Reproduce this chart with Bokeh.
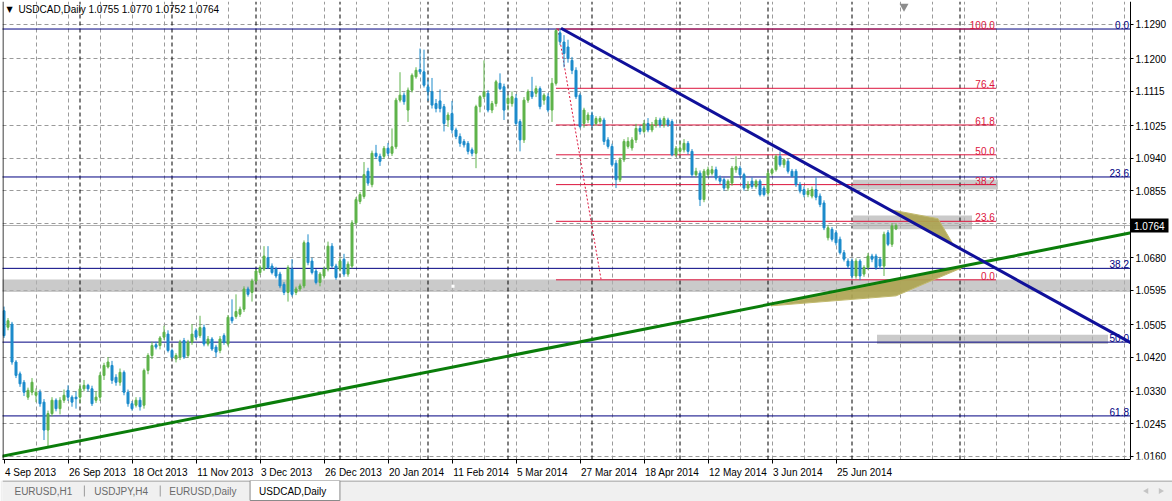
from bokeh.plotting import figure
from bokeh.models import Range1d, FixedTicker, Label, ColumnDataSource, NumeralTickFormatter, CustomJSTickFormatter
from bokeh.layouts import column
from bokeh.embed import file_html
from bokeh.resources import INLINE
from bokeh.core.properties import value

FONT = "Liberation Sans"

# ---------------- data ----------------
opens = [1.0541, 1.0498, 1.0506, 1.0407, 1.0376, 1.0354, 1.0315, 1.0328, 1.0320, 1.0328,
         1.0302, 1.0229, 1.0272, 1.0307, 1.0285, 1.0307, 1.0333, 1.0315, 1.0315, 1.0315,
         1.0337, 1.0346, 1.0337, 1.0307, 1.0315, 1.0372, 1.0394, 1.0398, 1.0367, 1.0354,
         1.0380, 1.0328, 1.0298, 1.0294, 1.0307, 1.0294, 1.0385, 1.0424, 1.0452, 1.0450,
         1.0472, 1.0480, 1.0437, 1.0415, 1.0420, 1.0463, 1.0424, 1.0459, 1.0489, 1.0476,
         1.0497, 1.0454, 1.0467, 1.0446, 1.0437, 1.0476, 1.0454, 1.0524, 1.0526, 1.0532,
         1.0545, 1.0598, 1.0589, 1.0619, 1.0641, 1.0650, 1.0680, 1.0658, 1.0650, 1.0637,
         1.0610, 1.0589, 1.0650, 1.0589, 1.0598, 1.0606, 1.0719, 1.0671, 1.0645, 1.0615,
         1.0632, 1.0650, 1.0710, 1.0658, 1.0650, 1.0676, 1.0637, 1.0658, 1.0771, 1.0827,
         1.0840, 1.0906, 1.0871, 1.0953, 1.0945, 1.0945, 1.0966, 1.0953, 1.0970, 1.1092,
         1.1105, 1.1066, 1.1118, 1.1153, 1.1172, 1.1166, 1.1127, 1.1114, 1.1083, 1.1090,
         1.1075, 1.1040, 1.1057, 1.1014, 1.0997, 1.0984, 1.0979, 1.0962, 1.0953, 1.1075,
         1.1101, 1.1110, 1.1066, 1.1083, 1.1136, 1.1127, 1.1083, 1.1083, 1.1097, 1.1036,
         1.0988, 1.1092, 1.1114, 1.1110, 1.1122, 1.1092, 1.1101, 1.1066, 1.1136, 1.1268,
         1.1244, 1.1231, 1.1196, 1.1170, 1.1105, 1.1031, 1.1040, 1.1053, 1.1031, 1.1036,
         1.1040, 1.0988, 1.0971, 1.0927, 1.0884, 1.0936, 1.0971, 1.0967, 1.0988, 1.1018,
         1.1010, 1.1031, 1.1014, 1.1027, 1.1040, 1.1027, 1.1040, 1.1036, 1.0949, 1.0958,
         1.0962, 1.0979, 1.0958, 1.0897, 1.0901, 1.0832, 1.0897, 1.0901, 1.0910, 1.0888,
         1.0884, 1.0862, 1.0875, 1.0910, 1.0914, 1.0897, 1.0862, 1.0880, 1.0866, 1.0880,
         1.0862, 1.0849, 1.0901, 1.0910, 1.0945, 1.0923, 1.0932, 1.0906, 1.0906, 1.0871,
         1.0858, 1.0845, 1.0841, 1.0858, 1.0841, 1.0823, 1.0732, 1.0754, 1.0745, 1.0728,
         1.0693, 1.0671, 1.0671, 1.0632, 1.0671, 1.0637, 1.0654, 1.0684, 1.0684, 1.0676,
         1.0658, 1.0745, 1.0715, 1.0755]
highs = [1.0552, 1.0522, 1.0512, 1.0412, 1.0382, 1.0360, 1.0340, 1.0365, 1.0338, 1.0335,
         1.0310, 1.0280, 1.0315, 1.0312, 1.0315, 1.0335, 1.0346, 1.0320, 1.0330, 1.0350,
         1.0360, 1.0350, 1.0345, 1.0330, 1.0380, 1.0405, 1.0420, 1.0410, 1.0375, 1.0390,
         1.0385, 1.0335, 1.0305, 1.0315, 1.0315, 1.0390, 1.0430, 1.0460, 1.0460, 1.0475,
         1.0502, 1.0490, 1.0442, 1.0430, 1.0465, 1.0470, 1.0465, 1.0506, 1.0495, 1.0528,
         1.0505, 1.0475, 1.0472, 1.0452, 1.0475, 1.0482, 1.0530, 1.0571, 1.0584, 1.0552,
         1.0605, 1.0604, 1.0625, 1.0650, 1.0660, 1.0710, 1.0710, 1.0665, 1.0656, 1.0643,
         1.0616, 1.0660, 1.0676, 1.0604, 1.0612, 1.0725, 1.0741, 1.0680, 1.0650, 1.0642,
         1.0656, 1.0722, 1.0718, 1.0664, 1.0680, 1.0690, 1.0670, 1.0778, 1.0838, 1.0852,
         1.0930, 1.0915, 1.0960, 1.0975, 1.0952, 1.0972, 1.0980, 1.1018, 1.1098, 1.1165,
         1.1112, 1.1125, 1.1162, 1.1178, 1.1227, 1.1224, 1.1145, 1.1150, 1.1095, 1.1120,
         1.1082, 1.1060, 1.1090, 1.1020, 1.1005, 1.0990, 1.0985, 1.0968, 1.1080, 1.1105,
         1.1196, 1.1118, 1.1090, 1.1145, 1.1162, 1.1135, 1.1105, 1.1115, 1.1108, 1.1042,
         1.1100, 1.1120, 1.1153, 1.1130, 1.1128, 1.1110, 1.1110, 1.1150, 1.1278, 1.1280,
         1.1262, 1.1250, 1.1205, 1.1178, 1.1110, 1.1072, 1.1060, 1.1062, 1.1050, 1.1050,
         1.1046, 1.0995, 1.0978, 1.0935, 1.0942, 1.0990, 1.0995, 1.0995, 1.1030, 1.1025,
         1.1040, 1.1045, 1.1035, 1.1048, 1.1046, 1.1050, 1.1046, 1.1042, 1.0972, 1.0985,
         1.0990, 1.0985, 1.0964, 1.0915, 1.0908, 1.0912, 1.0918, 1.0920, 1.0918, 1.0895,
         1.0890, 1.0885, 1.0920, 1.0945, 1.0920, 1.0902, 1.0880, 1.0890, 1.0885, 1.0885,
         1.0868, 1.0908, 1.0915, 1.0950, 1.0958, 1.0940, 1.0938, 1.0912, 1.0912, 1.0878,
         1.0866, 1.0862, 1.0866, 1.0890, 1.0848, 1.0830, 1.0765, 1.0760, 1.0752, 1.0735,
         1.0700, 1.0678, 1.0678, 1.0678, 1.0676, 1.0660, 1.0692, 1.0690, 1.0690, 1.0682,
         1.0748, 1.0752, 1.0770, 1.0770]
lows = [1.0470, 1.0490, 1.0400, 1.0365, 1.0342, 1.0318, 1.0308, 1.0320, 1.0302, 1.0290,
        1.0203, 1.0185, 1.0265, 1.0278, 1.0270, 1.0300, 1.0305, 1.0290, 1.0285, 1.0300,
        1.0330, 1.0330, 1.0292, 1.0300, 1.0305, 1.0360, 1.0390, 1.0350, 1.0345, 1.0345,
        1.0320, 1.0290, 1.0280, 1.0288, 1.0280, 1.0285, 1.0375, 1.0415, 1.0440, 1.0440,
        1.0465, 1.0432, 1.0415, 1.0406, 1.0412, 1.0415, 1.0418, 1.0452, 1.0465, 1.0470,
        1.0448, 1.0448, 1.0436, 1.0420, 1.0430, 1.0452, 1.0448, 1.0508, 1.0520, 1.0525,
        1.0538, 1.0578, 1.0565, 1.0612, 1.0635, 1.0645, 1.0650, 1.0636, 1.0626, 1.0600,
        1.0582, 1.0565, 1.0578, 1.0582, 1.0592, 1.0600, 1.0660, 1.0636, 1.0610, 1.0605,
        1.0625, 1.0644, 1.0652, 1.0622, 1.0644, 1.0630, 1.0630, 1.0652, 1.0765, 1.0820,
        1.0834, 1.0868, 1.0864, 1.0938, 1.0920, 1.0938, 1.0946, 1.0946, 1.0964, 1.1086,
        1.1080, 1.1035, 1.1112, 1.1148, 1.1160, 1.1125, 1.1090, 1.1070, 1.1060, 1.1060,
        1.1010, 1.1022, 1.1005, 1.0990, 1.0970, 1.0968, 1.0950, 1.0945, 1.0914, 1.1060,
        1.1095, 1.1060, 1.1058, 1.1075, 1.1118, 1.1040, 1.1065, 1.1075, 1.1025, 1.0958,
        1.0980, 1.1085, 1.1095, 1.1100, 1.1068, 1.1080, 1.1060, 1.1035, 1.1130, 1.1236,
        1.1178, 1.1190, 1.1160, 1.1095, 1.1018, 1.1020, 1.1032, 1.1020, 1.1025, 1.1030,
        1.0975, 1.0965, 1.0918, 1.0862, 1.0878, 1.0930, 1.0965, 1.0960, 1.0980, 1.1002,
        1.1005, 1.1008, 1.1008, 1.1020, 1.1020, 1.1020, 1.1022, 1.0945, 1.0943, 1.0950,
        1.0955, 1.0950, 1.0890, 1.0890, 1.0815, 1.0825, 1.0890, 1.0895, 1.0882, 1.0872,
        1.0855, 1.0855, 1.0868, 1.0902, 1.0890, 1.0855, 1.0855, 1.0860, 1.0860, 1.0840,
        1.0840, 1.0842, 1.0895, 1.0905, 1.0918, 1.0915, 1.0900, 1.0890, 1.0865, 1.0848,
        1.0838, 1.0838, 1.0835, 1.0830, 1.0812, 1.0752, 1.0725, 1.0722, 1.0712, 1.0688,
        1.0670, 1.0652, 1.0625, 1.0625, 1.0621, 1.0630, 1.0648, 1.0668, 1.0648, 1.0650,
        1.0632, 1.0710, 1.0708, 1.0752]
closes = [1.0476, 1.0515, 1.0407, 1.0372, 1.0350, 1.0328, 1.0333, 1.0354, 1.0328, 1.0298,
          1.0229, 1.0272, 1.0307, 1.0285, 1.0307, 1.0320, 1.0315, 1.0302, 1.0311, 1.0337,
          1.0346, 1.0337, 1.0298, 1.0315, 1.0372, 1.0398, 1.0407, 1.0359, 1.0354, 1.0380,
          1.0328, 1.0298, 1.0285, 1.0307, 1.0290, 1.0385, 1.0424, 1.0450, 1.0446, 1.0470,
          1.0485, 1.0437, 1.0420, 1.0424, 1.0459, 1.0420, 1.0459, 1.0480, 1.0472, 1.0497,
          1.0454, 1.0467, 1.0441, 1.0433, 1.0467, 1.0459, 1.0524, 1.0515, 1.0539, 1.0545,
          1.0598, 1.0584, 1.0619, 1.0645, 1.0654, 1.0684, 1.0654, 1.0641, 1.0632, 1.0606,
          1.0589, 1.0654, 1.0584, 1.0598, 1.0606, 1.0719, 1.0667, 1.0641, 1.0615, 1.0637,
          1.0650, 1.0710, 1.0658, 1.0628, 1.0671, 1.0637, 1.0663, 1.0771, 1.0832, 1.0845,
          1.0897, 1.0875, 1.0953, 1.0945, 1.0932, 1.0966, 1.0953, 1.0970, 1.1092, 1.1105,
          1.1088, 1.1118, 1.1157, 1.1170, 1.1166, 1.1131, 1.1114, 1.1079, 1.1070, 1.1070,
          1.1031, 1.1053, 1.1014, 1.0997, 1.0979, 1.0975, 1.0958, 1.0953, 1.1075, 1.1101,
          1.1114, 1.1066, 1.1083, 1.1140, 1.1122, 1.1066, 1.1097, 1.1101, 1.1031, 1.0988,
          1.1092, 1.1114, 1.1101, 1.1122, 1.1075, 1.1105, 1.1066, 1.1136, 1.1274, 1.1245,
          1.1214, 1.1201, 1.1170, 1.1101, 1.1023, 1.1066, 1.1053, 1.1027, 1.1044, 1.1044,
          1.0984, 1.0971, 1.0923, 1.0884, 1.0936, 1.0984, 1.0984, 1.0988, 1.1018, 1.1010,
          1.1031, 1.1014, 1.1027, 1.1040, 1.1027, 1.1044, 1.1027, 1.0949, 1.0966, 1.0966,
          1.0979, 1.0958, 1.0897, 1.0906, 1.0832, 1.0906, 1.0910, 1.0910, 1.0888, 1.0880,
          1.0862, 1.0880, 1.0914, 1.0918, 1.0897, 1.0862, 1.0871, 1.0866, 1.0880, 1.0845,
          1.0845, 1.0901, 1.0910, 1.0945, 1.0923, 1.0936, 1.0906, 1.0893, 1.0871, 1.0854,
          1.0845, 1.0854, 1.0858, 1.0838, 1.0819, 1.0758, 1.0758, 1.0728, 1.0719, 1.0693,
          1.0676, 1.0658, 1.0632, 1.0671, 1.0632, 1.0654, 1.0684, 1.0676, 1.0654, 1.0658,
          1.0741, 1.0715, 1.0763, 1.0764]

date_tick_bars = [0, 16, 32, 48, 64, 80, 96, 112, 128, 144, 160, 176, 192, 208]
date_tick_labels = ["4 Sep 2013", "26 Sep 2013", "18 Oct 2013", "11 Nov 2013", "3 Dec 2013",
                    "26 Dec 2013", "20 Jan 2014", "11 Feb 2014", "5 Mar 2014", "27 Mar 2014",
                    "18 Apr 2014", "12 May 2014", "3 Jun 2014", "25 Jun 2014"]
month_start_bars = [19, 42, 63, 84, 106, 126, 147, 169, 191, 212, 239]
vgrid_bars = list(range(8, 281, 8))

price_ticks = [1.1290, 1.1200, 1.1115, 1.1025, 1.0940, 1.0855, 1.0680, 1.0595,
               1.0505, 1.0420, 1.0330, 1.0245, 1.0160]
price_grid = price_ticks + [1.0770]
last_price = 1.0764
last_price_text = "1.0764"
header_text = "USDCAD,Daily  1.0755 1.0770 1.0752 1.0764"

navy_fib_labels = ["0.0", "23.6", "38.2", "50.0", "61.8"]
navy_fib_prices = [1.1278, 1.0891, 1.0652, 1.0459, 1.0266]

red_fib_labels = ["100.0", "76.4", "61.8", "50.0", "38.2", "23.6", "0.0"]
red_fib_prices = [1.1278, 1.1123, 1.1027, 1.0949, 1.0871, 1.0775, 1.0622]
red_fib_start, red_fib_end = 138.0, 248.0

red_dot_x = [138.5, 149.25]
red_dot_y = [1.1278, 1.0624]
blue_trend_x = [139.25, 281.75]
blue_trend_y = [1.1280, 1.0457]
green_trend_x = [-0.75, 281.75]
green_trend_y = [1.0160, 1.0745]

rect_left = [-2.0, 212.25, 212.25, 218.25]
rect_right = [281.75, 248.5, 242.0, 276.0]
rect_top = [1.0623, 1.0884, 1.0790, 1.0478]
rect_bottom = [1.0590, 1.0858, 1.0754, 1.0454]

olive_xs = [[221.25, 233.5, 237.25], [191.75, 223.0, 240.5]]
olive_ys = [[1.0806, 1.0782, 1.0715], [1.0554, 1.0580, 1.0658]]

anchor_x = [112.25]
anchor_y = [1.0605]
shift_x = [225.0]
shift_y = [1.1337]

tab_names = ["EURUSD,H1", "USDJPY,H4", "EURUSD,Daily", "USDCAD,Daily"]

# ---------------- styling / layout ----------------
W = 1172
H_MAIN = 480
H_TABS = 21
BL, BR, BT, BB = 2, 0, 1, 19
AXIS_W = 42                        # width of the price scale strip
X0 = -0.375                        # left edge of the chart, in bars
FRAME_W = W - BL - BR
PPB = 4.0                          # pixels per bar
X_EDGE = X0 + (FRAME_W - AXIS_W) / PPB
X_MAX = X0 + FRAME_W / PPB
Y0, Y1 = 1.0152, 1.1350
FRAME_H = H_MAIN - BT - BB
PPU = FRAME_H / (Y1 - Y0)          # pixels per price unit

BULL = "#5fb34a"
BEAR = "#1c8bcb"
NAVY = "#000080"
RED = "#dc143c"
GRID = "#9a9a9a"

p = figure(width=W, height=H_MAIN, x_range=Range1d(X0, X_MAX), y_range=Range1d(Y0, Y1),
           y_axis_location="right", output_backend="svg", toolbar_location=None,
           min_border_left=BL, min_border_right=BR, min_border_top=BT, min_border_bottom=BB,
           background_fill_color="white", border_fill_color="white")
p.outline_line_color = None

# grids
p.xgrid.ticker = FixedTicker(ticks=vgrid_bars)
p.ygrid.ticker = FixedTicker(ticks=price_grid)
for g in (p.xgrid[0], p.ygrid[0]):
    g.grid_line_color = GRID
    g.grid_line_dash = "4 3"
    g.grid_line_width = 1

# right price scale, drawn at the chart edge
ya = p.yaxis[0]
ya.fixed_location = X_EDGE
ya.ticker = FixedTicker(ticks=price_ticks)
ya.formatter = NumeralTickFormatter(format="0.0000")
ya.major_tick_out = 3
ya.major_tick_in = 0
ya.minor_tick_line_color = None
ya.major_label_standoff = 2
ya.major_label_text_font = FONT
ya.major_label_text_font_size = "10px"
ya.major_label_text_color = "black"
ya.axis_line_color = "black"


# bottom date axis: labels start at the tick (MT4 style)
def text_width(s, size):
    cw = {" ": .278, ".": .278, ",": .278}
    wide = {"M": .833, "O": .778, "D": .722, "N": .722, "S": .667, "A": .667, "F": .611,
            "J": .5, "c": .5, "v": .5, "y": .5, "t": .278, "r": .333}
    tot = 0.0
    for ch in s:
        tot += cw.get(ch, wide.get(ch, .556))
    return tot * size


label_centers = [b + (text_width(s, 10) / 2 + 1) / PPB for b, s in zip(date_tick_bars, date_tick_labels)]
xa = p.xaxis[0]
xa.bounds = (X0, X_EDGE)
xa.ticker = FixedTicker(ticks=label_centers, minor_ticks=date_tick_bars)
xa.formatter = CustomJSTickFormatter(args=dict(centers=label_centers, names=date_tick_labels), code="""
    for (let i = 0; i < centers.length; i++) { if (Math.abs(centers[i] - tick) < 1e-6) return names[i]; }
    return "";
""")
xa.major_tick_line_color = None
xa.major_tick_out = 0
xa.major_tick_in = 0
xa.minor_tick_out = 4
xa.minor_tick_in = 0
xa.minor_tick_line_color = "black"
xa.major_label_standoff = 3
xa.major_label_text_font = FONT
xa.major_label_text_font_size = "10px"
xa.major_label_text_color = "black"
xa.axis_line_color = "black"

# background rectangles
p.quad(left=rect_left, right=rect_right, top=rect_top, bottom=rect_bottom,
       fill_color="#b4b4b4", fill_alpha=0.7, line_color=None)

# month separators
p.segment(x0=month_start_bars, x1=month_start_bars, y0=[Y0] * len(month_start_bars),
          y1=[Y1] * len(month_start_bars), line_color="black", line_dash="4 3", line_width=1)

# bid line
p.segment(x0=[X0], x1=[X_EDGE], y0=[last_price], y1=[last_price], line_color="#b0b0b0", line_width=1)

# long-term fibonacci (navy)
p.segment(x0=[X0 - 2] * len(navy_fib_prices), x1=[X_EDGE] * len(navy_fib_prices),
          y0=navy_fib_prices, y1=navy_fib_prices, line_color=NAVY, line_width=1)
p.text(x=[X_EDGE - 1.5 / PPB] * len(navy_fib_prices), y=navy_fib_prices, text=navy_fib_labels,
       text_align="right", text_baseline="bottom", text_color=NAVY,
       text_font=value(FONT), text_font_size="10px")

# swing fibonacci (red)
p.segment(x0=[red_fib_start] * len(red_fib_prices), x1=[red_fib_end] * len(red_fib_prices),
          y0=red_fib_prices, y1=red_fib_prices, line_color=RED, line_width=1)
p.text(x=[red_fib_end - 0.3] * len(red_fib_prices), y=red_fib_prices, text=red_fib_labels,
       text_align="right", text_baseline="bottom", text_color=RED,
       text_font=value(FONT), text_font_size="10px")
p.line(red_dot_x, red_dot_y, line_color=RED, line_dash="2 2", line_width=1)

# candles
xs = list(range(len(opens)))
cols = [BULL if c >= o else BEAR for o, c in zip(opens, closes)]
src = ColumnDataSource(dict(x=xs, o=opens, h=highs, l=lows, c=closes,
                            top=[max(o, c) for o, c in zip(opens, closes)],
                            bot=[min(o, c) for o, c in zip(opens, closes)],
                            col=cols))
p.segment(x0="x", x1="x", y0="l", y1="h", line_color="col", line_width=1, source=src)
p.vbar(x="x", width=0.5, top="top", bottom="bot", fill_color="col", line_color="col",
       line_width=1, source=src)

# olive triangles
p.patches(xs=olive_xs, ys=olive_ys, fill_color="#ada451", fill_alpha=0.92, line_color="#c2ba6e", line_width=1)

# trend lines
p.line(green_trend_x, green_trend_y, line_color="#0a7d0a", line_width=3)
p.line(blue_trend_x, blue_trend_y, line_color="#10109a", line_width=3)

# small markers
p.scatter(anchor_x, anchor_y, marker="square", size=3, fill_color="white", line_color=None)
p.scatter(shift_x, shift_y, marker="inverted_triangle", size=9, fill_color="#8c8c8c", line_color=None)

# left border of the chart
p.segment(x0=[X0 + 0.5 / PPB], x1=[X0 + 0.5 / PPB], y0=[Y0], y1=[Y1], line_color="black", line_width=1)

# blank price-scale strip, then the current price box on it
p.quad(left=[X_EDGE], right=[X_MAX + 1], top=[Y1 + 0.01], bottom=[Y0 - 0.01],
       fill_color="white", line_color=None)
half_h = 7 / PPU
p.quad(left=[X_EDGE], right=[X_EDGE + 38 / PPB], top=[last_price + half_h], bottom=[last_price - half_h],
       fill_color="black", line_color=None)
p.text(x=[X_EDGE + 3.5 / PPB], y=[last_price], text=[last_price_text], text_baseline="middle",
       text_color="white", text_font=value(FONT), text_font_size="10px")

# header
p.add_layout(Label(x=0.6, y=1.1329, text="\u25bc", text_font="DejaVu Sans", text_font_size="8px",
                   text_baseline="middle", text_color="black"))
p.add_layout(Label(x=3.6, y=1.1329, text=header_text, text_font=FONT, text_font_size="10px",
                   text_baseline="middle", text_color="black"))

# ---------------- tab bar ----------------
t = figure(width=W, height=H_TABS, x_range=Range1d(0, W), y_range=Range1d(0, H_TABS),
           output_backend="svg", toolbar_location=None, x_axis_location=None, y_axis_location=None,
           min_border=0, background_fill_color="#f0f0f0", border_fill_color="#f0f0f0")
t.grid.visible = False
t.outline_line_color = None
t.quad(left=[248], right=[338], top=[21], bottom=[1], fill_color="white", line_color="#8a8a8a")
t.segment(x0=[0, 338], x1=[248, W], y0=[20.5, 20.5], y1=[20.5, 20.5], line_color="#8a8a8a")
t.segment(x0=[82, 158], x1=[82, 158], y0=[5, 5], y1=[16, 16], line_color="#9a9a9a")
t.text(x=[12, 92, 167, 257], y=[10.5] * 4, text=tab_names, text_baseline="middle",
       text_color=["#6a6a6a", "#6a6a6a", "#6a6a6a", "black"],
       text_font=value(FONT), text_font_size="10px")
t.scatter([1146, 1160], [10.5, 10.5], marker="triangle", angle=[1.5708, -1.5708], size=6,
          fill_color="#c4c4c4", line_color=None)

layout = column(p, t, spacing=0)
open("out.html", "w").write(file_html(layout, INLINE))
